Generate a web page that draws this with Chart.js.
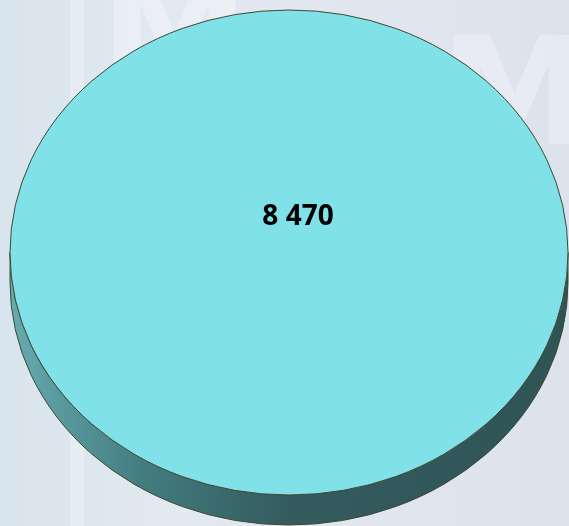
<!DOCTYPE html>
<html>
<head>
<meta charset="utf-8">
<script src="https://cdn.jsdelivr.net/npm/chart.js@4"></script>
<style>
  html, body { margin: 0; padding: 0; }
  body {
    width: 569px; height: 526px; overflow: hidden;
    background: #e2e8ef;
  }
  #wrap { position: relative; width: 569px; height: 526px; }
</style>
</head>
<body>
<div id="wrap"><canvas id="pie" width="569" height="526"></canvas></div>
<script>
const categories = ["Total"];
const values = [8470];
const sliceColors = ["#81e1e9"];

const depth = 30;

function formatNumber(n) {
  return String(n).replace(/\B(?=(\d{3})+(?!\d))/g, " ");
}

// faint photo-like backdrop
const backdrop = {
  id: "backdrop",
  beforeDraw(chart) {
    const ctx = chart.ctx;
    ctx.save();
    const g = ctx.createLinearGradient(0, 0, chart.width, 0);
    g.addColorStop(0, "#d8e4ed");
    g.addColorStop(0.3, "#e3e9f0");
    g.addColorStop(0.7, "#e1e5ee");
    g.addColorStop(1, "#dce2eb");
    ctx.fillStyle = g;
    ctx.fillRect(0, 0, chart.width, chart.height);
    ctx.fillStyle = "rgba(255,255,255,0.3)";
    ctx.font = "bold 150px 'DejaVu Sans'";
    ctx.textBaseline = "top";
    ctx.fillText("M", 100, -30);
    ctx.fillText("M", 440, 30);
    ctx.fillStyle = "rgba(255,255,255,0.25)";
    ctx.fillRect(70, 0, 14, 526);
    ctx.restore();
  }
};

// 3D side + horizontal stretch into an ellipse
const tilt = {
  id: "tilt",
  beforeDatasetsDraw(chart) {
    const arc = chart.getDatasetMeta(0).data[0];
    const ctx = chart.ctx;
    const area = chart.chartArea;
    const k = area.width / area.height;
    const cx = arc.x, cy = arc.y;
    const ry = arc.outerRadius, rx = ry * k;

    ctx.save();
    const g = ctx.createLinearGradient(cx - rx, 0, cx + rx, 0);
    g.addColorStop(0, "#66abb0");
    g.addColorStop(0.25, "#427a7e");
    g.addColorStop(0.5, "#345b5e");
    g.addColorStop(1, "#2e5456");
    ctx.beginPath();
    ctx.ellipse(cx, cy, rx, ry, 0, Math.PI, 0, true);
    ctx.lineTo(cx + rx, cy + depth);
    ctx.ellipse(cx, cy + depth, rx, ry, 0, 0, Math.PI, false);
    ctx.closePath();
    ctx.fillStyle = g;
    ctx.fill();
    ctx.strokeStyle = "#3d4a32";
    ctx.lineWidth = 1;
    ctx.stroke();
    ctx.restore();

    ctx.save();
    ctx.translate(cx, cy);
    ctx.scale(k, 1);
    ctx.translate(-cx, -cy);
  },
  afterDatasetsDraw(chart) {
    const ctx = chart.ctx;
    ctx.restore();
    const arc = chart.getDatasetMeta(0).data[0];
    const area = chart.chartArea;
    const k = area.width / area.height;
    ctx.save();
    ctx.beginPath();
    ctx.ellipse(arc.x, arc.y, arc.outerRadius * k, arc.outerRadius, 0, 0, Math.PI * 2);
    ctx.strokeStyle = "#3d4a32";
    ctx.lineWidth = 1;
    ctx.stroke();
    ctx.font = "bold 28px 'Open Sans'";
    ctx.fillStyle = "#000000";
    ctx.textAlign = "center";
    ctx.textBaseline = "middle";
    ctx.fillText(formatNumber(chart.data.datasets[0].data[0]), arc.x + 9, arc.y - arc.outerRadius * 0.145);
    ctx.restore();
  }
};

new Chart(document.getElementById("pie").getContext("2d"), {
  type: "pie",
  data: {
    labels: categories,
    datasets: [{
      data: values,
      backgroundColor: sliceColors,
      borderWidth: 0
    }]
  },
  options: {
    responsive: false,
    animation: false,
    layout: { padding: { left: 10, right: 1, top: 10, bottom: 31 } },
    plugins: {
      legend: { display: false },
      tooltip: { enabled: false }
    }
  },
  plugins: [backdrop, tilt]
});
</script>
</body>
</html>
